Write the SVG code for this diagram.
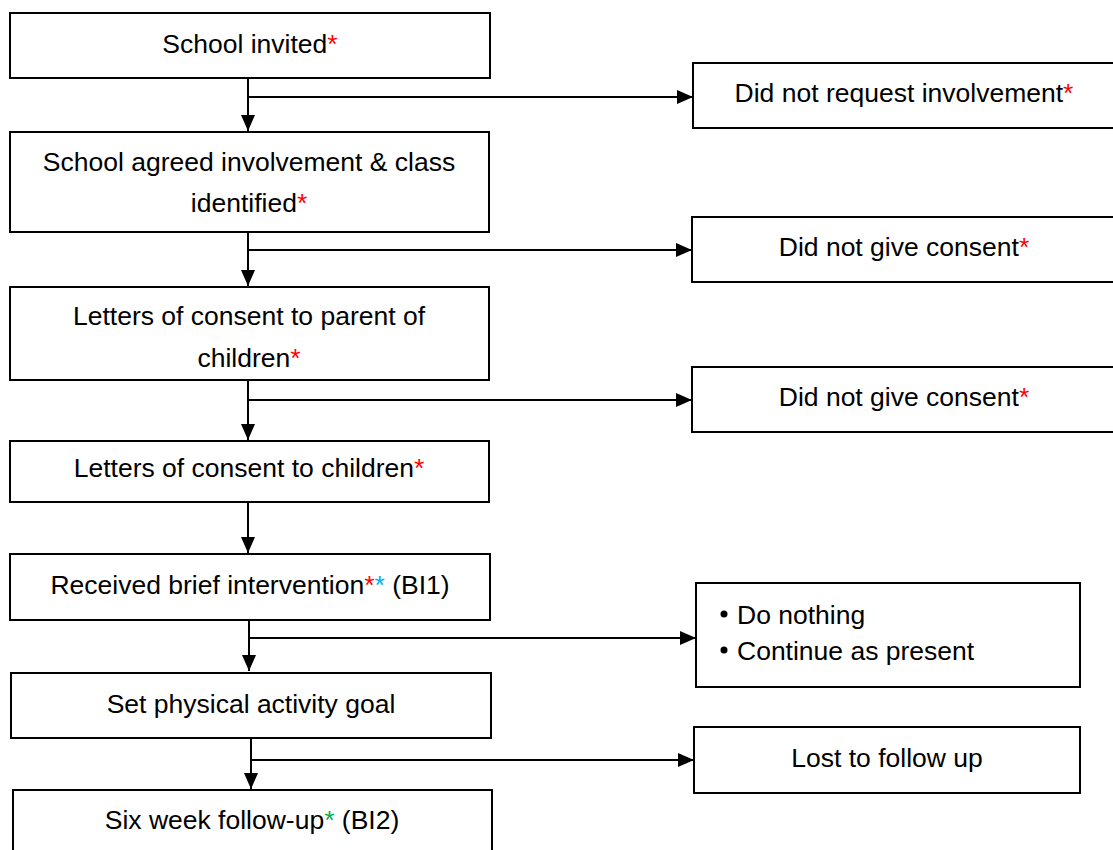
<svg xmlns="http://www.w3.org/2000/svg" width="1113" height="850" viewBox="0 0 1113 850">
<style>
.box{fill:#fff;stroke:#000;stroke-width:2}
.t{font-family:"Liberation Sans",Arial,sans-serif;font-size:26.5px;fill:#000;text-anchor:middle}
.tl{font-family:"Liberation Sans",Arial,sans-serif;font-size:26.5px;fill:#000}
.r{fill:#FF0000}.b{fill:#00B0F0}.g{fill:#00B050}
.c{fill:none;stroke:#000;stroke-width:2}
</style>
<defs>
<marker id="ah" viewBox="0 0 16 14" refX="16" refY="7" markerWidth="16" markerHeight="14" markerUnits="userSpaceOnUse" orient="auto">
<path d="M0,0 L16,7 L0,14 Z" fill="#000"/>
</marker>
</defs>
<rect width="1113" height="850" fill="#fff"/>
<g id="connectors">
<path class="c" d="M248,78 V131" marker-end="url(#ah)"/>
<path class="c" d="M248,97 H693" marker-end="url(#ah)"/>
<path class="c" d="M248,232 V286" marker-end="url(#ah)"/>
<path class="c" d="M248,250 H692" marker-end="url(#ah)"/>
<path class="c" d="M248,380 V440" marker-end="url(#ah)"/>
<path class="c" d="M248,400 H692" marker-end="url(#ah)"/>
<path class="c" d="M248,502 V553" marker-end="url(#ah)"/>
<path class="c" d="M249,620 V671" marker-end="url(#ah)"/>
<path class="c" d="M249,638 H696" marker-end="url(#ah)"/>
<path class="c" d="M251,738 V789" marker-end="url(#ah)"/>
<path class="c" d="M251,760 H694" marker-end="url(#ah)"/>
</g>
<g id="n1"><rect class="box" x="10" y="13" width="480" height="65"/><text class="t" x="250" y="53">School invited<tspan class="r">*</tspan></text></g>
<g id="n2"><rect class="box" x="10" y="132" width="479" height="100"/><text class="t" x="249" y="171">School agreed involvement &amp; class</text><text class="t" x="249" y="212">identified<tspan class="r">*</tspan></text></g>
<g id="n3"><rect class="box" x="10" y="287" width="479" height="93"/><text class="t" x="249" y="325">Letters of consent to parent of</text><text class="t" x="249" y="367">children<tspan class="r">*</tspan></text></g>
<g id="n4"><rect class="box" x="10" y="441" width="479" height="61"/><text class="t" x="249" y="477">Letters of consent to children<tspan class="r">*</tspan></text></g>
<g id="n5"><rect class="box" x="10" y="554" width="480" height="66"/><text class="t" x="250" y="594">Received brief intervention<tspan class="r">*</tspan><tspan class="b">*</tspan> (BI1)</text></g>
<g id="n6"><rect class="box" x="11" y="673" width="480" height="65"/><text class="t" x="251" y="713">Set physical activity goal</text></g>
<g id="n7"><rect class="box" x="13" y="790" width="479" height="70"/><text class="t" x="252" y="829">Six week follow-up<tspan class="g">*</tspan> (BI2)</text></g>
<g id="r1"><rect class="box" x="693" y="63" width="425" height="65"/><text class="t" x="904" y="102">Did not request involvement<tspan class="r">*</tspan></text></g>
<g id="r2"><rect class="box" x="692" y="217" width="425" height="65"/><text class="t" x="904" y="256">Did not give consent<tspan class="r">*</tspan></text></g>
<g id="r3"><rect class="box" x="692" y="367" width="425" height="65"/><text class="t" x="904" y="406">Did not give consent<tspan class="r">*</tspan></text></g>
<g id="r4"><rect class="box" x="696" y="583" width="384" height="104"/><circle cx="724" cy="614" r="3.5" fill="#000"/><text class="tl" x="737" y="624">Do nothing</text><circle cx="724" cy="650" r="3.5" fill="#000"/><text class="tl" x="737" y="660">Continue as present</text></g>
<g id="r5"><rect class="box" x="694" y="727" width="386" height="66"/><text class="t" x="887" y="767">Lost to follow up</text></g>
</svg>
